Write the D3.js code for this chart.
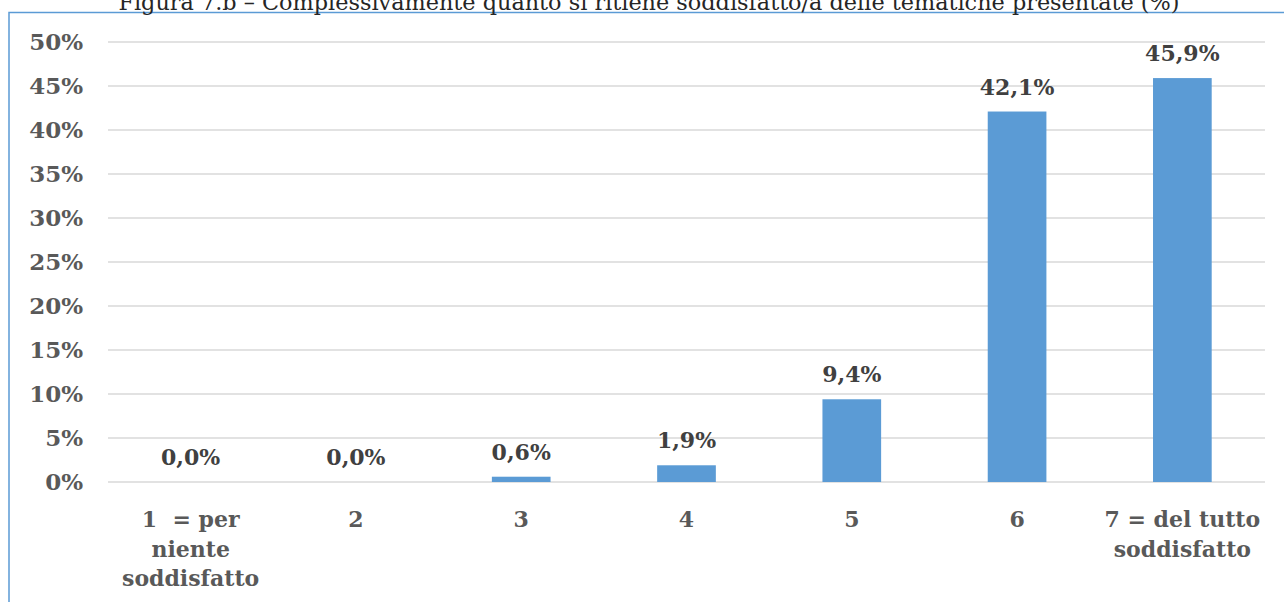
<!DOCTYPE html>
<html>
<head>
<meta charset="utf-8">
<script src="https://cdn.jsdelivr.net/npm/d3@7"></script>
<style>
  html, body { margin: 0; padding: 0; background: #fff; overflow: hidden; }
  svg { display: block; }
</style>
</head>
<body>
<svg id="chart" width="1284" height="602"></svg>
<script>
const title = "Figura 7.b – Complessivamente quanto si ritiene soddisfatto/a delle tematiche presentate (%)";
const categories = ["1  = per\nniente\nsoddisfatto", "2", "3", "4", "5", "6", "7 = del tutto\nsoddisfatto"];
const values = [0.0, 0.0, 0.6, 1.9, 9.4, 42.1, 45.9];
const valueLabels = ["0,0%", "0,0%", "0,6%", "1,9%", "9,4%", "42,1%", "45,9%"];
const yTicks = [0, 5, 10, 15, 20, 25, 30, 35, 40, 45, 50];

const svg = d3.select("#chart");
const W = 1284, H = 602;
const plot = { left: 108, right: 1265, top: 42, bottom: 482 };
const serif = "'DejaVu Serif', 'Liberation Serif', serif";

// frame
svg.append("path")
  .attr("d", `M9,${H + 5} L9,12.5 L${W + 5},12.5`)
  .attr("fill", "none").attr("stroke", "#5B9BD5").attr("stroke-width", 1.5);

// title (partly above the visible area, as in the reference)
const t = svg.append("text")
  .attr("x", 649).attr("y", 10)
  .attr("text-anchor", "middle")
  .attr("font-family", serif).attr("font-size", 20)
  .attr("fill", "#262626")
  .text(title);
const tl = t.node().getComputedTextLength();
t.attr("font-size", 20 * 1062 / tl);

const x = d3.scaleBand().domain(categories).range([plot.left, plot.right])
  .paddingInner(0.645).paddingOuter(0.3225);
const y = d3.scaleLinear().domain([0, 50]).range([plot.bottom, plot.top]);

// grid
svg.append("g").selectAll("line").data(yTicks).join("line")
  .attr("x1", plot.left).attr("x2", plot.right)
  .attr("y1", d => y(d)).attr("y2", d => y(d))
  .attr("stroke", "#D9D9D9").attr("stroke-width", 1.5);

// y axis
const yAxis = svg.append("g").attr("transform", `translate(${plot.left},0)`)
  .call(d3.axisLeft(y).tickValues(yTicks).tickFormat(d => d + "%").tickSize(0).tickPadding(25));
yAxis.select(".domain").remove();
yAxis.selectAll("text")
  .attr("font-family", serif).attr("font-weight", "bold").attr("font-size", 23)
  .attr("fill", "#595959");

// bars
svg.append("g").selectAll("rect").data(values).join("rect")
  .attr("x", (d, i) => x(categories[i]))
  .attr("width", x.bandwidth())
  .attr("y", d => y(d))
  .attr("height", d => y(0) - y(d))
  .attr("fill", "#5B9BD5");

// value labels
svg.append("g").selectAll("text").data(values).join("text")
  .attr("x", (d, i) => x(categories[i]) + x.bandwidth() / 2)
  .attr("y", d => y(d) - 17)
  .attr("text-anchor", "middle")
  .attr("font-family", serif).attr("font-weight", "bold").attr("font-size", 22)
  .attr("fill", "#404040")
  .text((d, i) => valueLabels[i]);

// x axis labels
const xAxis = svg.append("g").attr("transform", `translate(0,${plot.bottom})`)
  .call(d3.axisBottom(x).tickSize(0).tickFormat(""));
xAxis.select(".domain").remove();
xAxis.selectAll(".tick").each(function(d) {
  const g = d3.select(this);
  const txt = g.append("text")
    .attr("text-anchor", "middle")
    .attr("font-family", serif).attr("font-weight", "bold").attr("font-size", 22)
    .attr("fill", "#595959")
    .style("white-space", "pre");
  d.split("\n").forEach((line, i) => {
    txt.append("tspan").attr("x", 0).attr("y", 45 + i * 29.5).text(line);
  });
});
</script>
</body>
</html>
